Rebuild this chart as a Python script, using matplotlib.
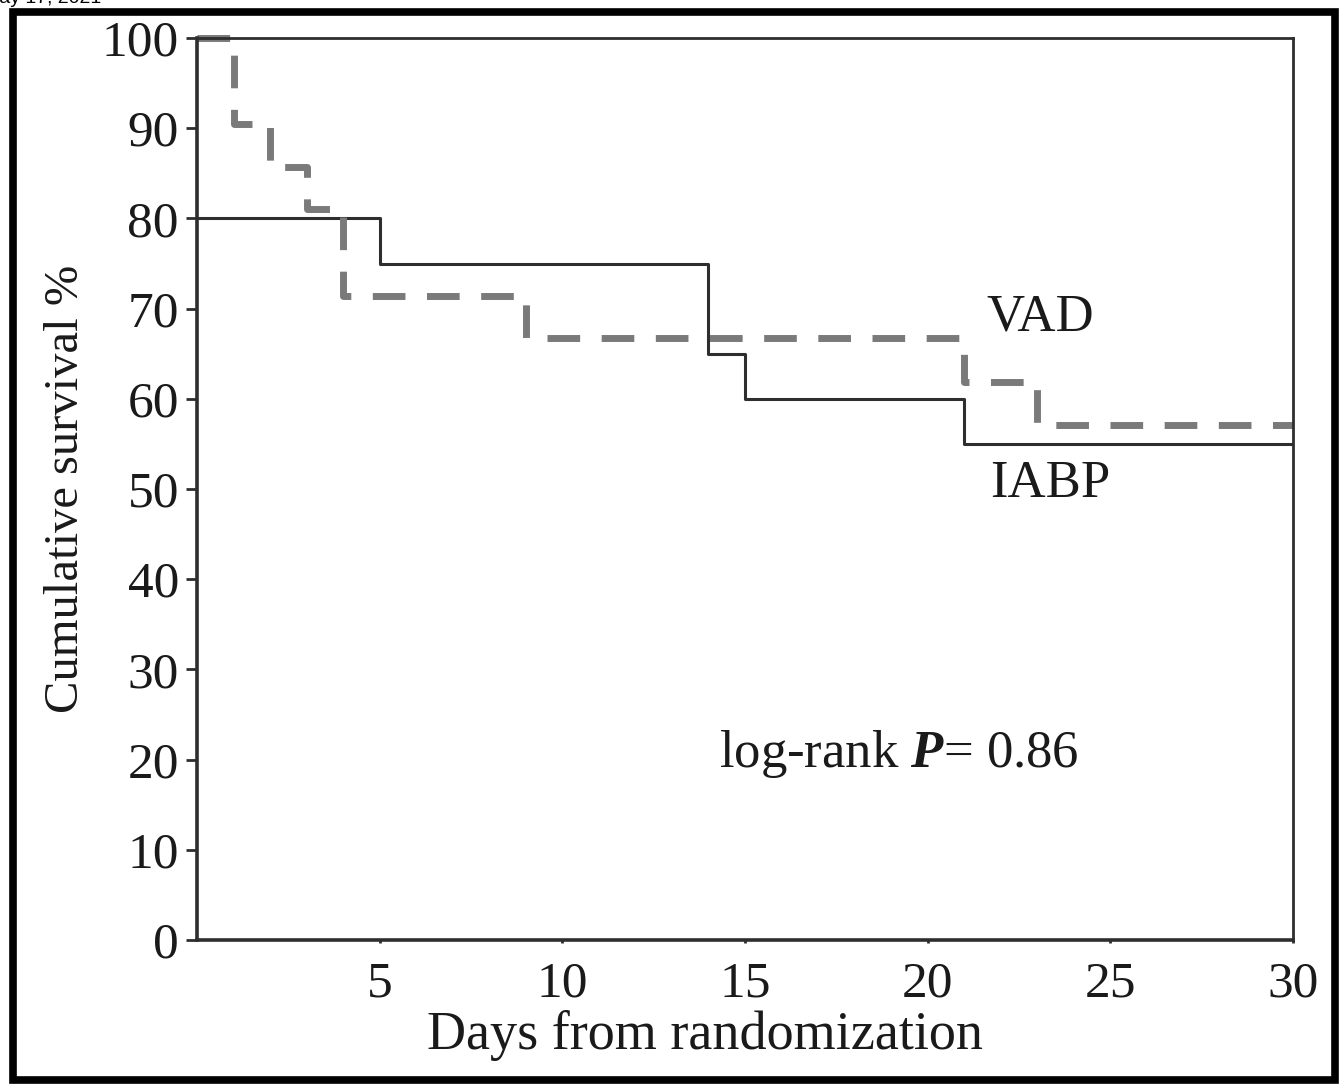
import matplotlib
matplotlib.use('Agg')
from matplotlib import pyplot as plt
from matplotlib.patches import Rectangle

# Kaplan-Meier steps.
vadDays = [0, 1, 2, 3, 4, 9, 21, 23, 30]
vadSurvival = [100, 90.5, 85.7, 81.0, 71.4, 66.7, 61.9, 57.1, 57.1]
iabpDays = [0, 5, 14, 15, 21, 30]
iabpSurvival = [80, 75, 65, 60, 55, 55]

xTicks = [5, 10, 15, 20, 25, 30]
yTicks = [0, 10, 20, 30, 40, 50, 60, 70, 80, 90, 100]

plt.rcParams['font.family'] = ['Liberation Serif', 'DejaVu Serif']
plt.rcParams['mathtext.fontset'] = 'custom'
plt.rcParams['mathtext.rm'] = 'Liberation Serif'
plt.rcParams['mathtext.it'] = 'Liberation Serif:italic'
plt.rcParams['mathtext.bf'] = 'Liberation Serif:bold'
plt.rcParams['mathtext.bfit'] = 'Liberation Serif:bold:italic'

fig = plt.figure(figsize=(13.43, 10.84), dpi=100)
ax = fig.add_axes([0.1467, 0.1328, 0.8161, 0.8321])

lineCol = '#2e2e2e'
txtCol = '#1a1a1a'
ax.step(iabpDays, iabpSurvival, where='post', color=lineCol, lw=2.2)
ax.step(vadDays, vadSurvival, where='post', color='#7a7a7a', lw=5,
        dashes=(4.7, 3.1), clip_on=False)

ax.set_xlim(0, 30)
ax.set_ylim(0, 100)
ax.set_xticks(xTicks)
ax.set_yticks(yTicks)
ax.tick_params(axis='y', direction='out', length=8, width=2, pad=5,
               labelsize=37, colors=lineCol, labelcolor=txtCol)
ax.tick_params(axis='x', direction='out', length=2, width=2, pad=13,
               labelsize=37, colors=lineCol, labelcolor=txtCol)

for side in ['left', 'bottom']:
  ax.spines[side].set_linewidth(2.6)
for side in ['top', 'right']:
  ax.spines[side].set_linewidth(2.0)
for sp in ax.spines.values():
  sp.set_color(lineCol)

ax.set_xlabel('Days from randomization', fontsize=39, color=txtCol, labelpad=2, x=0.4635)
ax.set_ylabel('Cumulative survival %', fontsize=35, color=txtCol, labelpad=10)

ax.text(21.6, 67.6, 'VAD', fontsize=38, color=txtCol)
ax.text(21.7, 49.1, 'IABP', fontsize=38, color=txtCol)
ax.text(14.3, 19.2, r'log-rank $\mathbfit{P}$= 0.86', fontsize=38, color=txtCol)

# Outer frame and clipped header text.
fig.patches.append(Rectangle((0.0095, 0.0035), 0.9845, 0.9855, transform=fig.transFigure,
                             fill=False, edgecolor='black', linewidth=5.5))
fig.text(-0.0125, 0.9975, 'May 17, 2021', fontsize=14, va='baseline', ha='left',
         family='Liberation Sans')

fig.savefig('out.png', dpi=100)
